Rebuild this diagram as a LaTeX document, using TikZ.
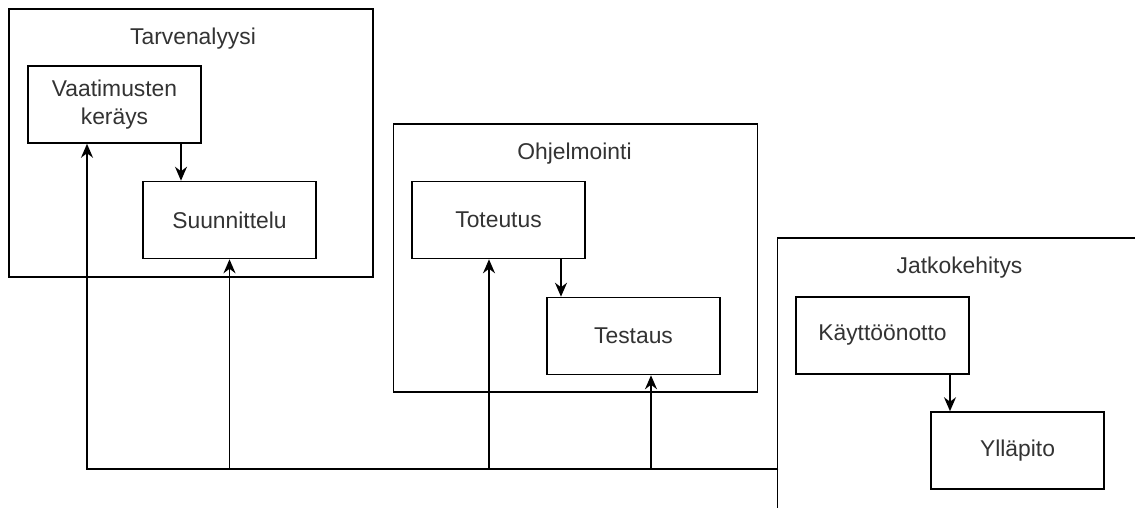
\documentclass[tikz,border=0pt]{standalone}
\usepackage{fontspec}
\setmainfont{Liberation Sans}
\usetikzlibrary{arrows.meta,positioning}
\definecolor{phaseInk}{HTML}{000000}
\definecolor{phaseText}{HTML}{333333}
\tikzset{
  every picture/.style={font=\fontsize{13pt}{15.5pt}\selectfont, text=phaseText},
  phase frame/.style={draw=phaseInk, line width=0.9pt, fill=white,
    minimum width=7.28cm, minimum height=5.36cm, inner sep=0pt},
  phase title/.style={inner sep=1pt},
  phase box/.style={draw=phaseInk, line width=0.9pt, fill=white, align=center,
    minimum width=3.46cm, minimum height=1.54cm, inner sep=2pt},
  phase arrow/.style={-{Stealth[length=2.8mm,width=2.4mm]},
    draw=phaseInk, line width=0.9pt, line cap=butt}
}

\begin{document}
\begin{tikzpicture}[x=0.02cm,y=-0.02cm]
  \useasboundingbox (0,0) rectangle (1135,507);
  \clip (0,0) rectangle (1135,507);
  % phase frames
  \node[phase frame] (tarve) at (191,143) {};
  \node[phase frame] (ohjel) at (575.5,258) {};
  \node[phase frame, minimum height=5.6cm] (jatko) at (959.5,378) {};
  \node[phase title] (tarvet) at (193,39) {Tarvenalyysi};
  \node[phase title] (ohjelt) at (574.5,154) {Ohjelmointi};
  \node[phase title] (jatkot) at (959.5,268) {Jatkokehitys};
  % steps
  \node[phase box] (vaat) at (114.5,104.5) {Vaatimusten\\keräys};
  \node[phase box] (suun) at (229.5,220) {Suunnittelu};
  \node[phase box] (tot) at (498.5,220) {Toteutus};
  \node[phase box] (test) at (633.5,336) {Testaus};
  \node[phase box] (kaytto) at (882.5,335.5) {Käyttöönotto};
  \node[phase box] (yllap) at (1017.5,450.5) {Ylläpito};
  % inside each phase
  \coordinate (va) at ([xshift=1.33cm]vaat.south);
  \coordinate (to) at ([xshift=1.25cm]tot.south);
  \coordinate (ka) at ([xshift=1.35cm]kaytto.south);
  \draw[phase arrow] (va) -- (va |- suun.north);
  \draw[phase arrow] (to) -- (to |- test.north);
  \draw[phase arrow] (ka) -- (ka |- yllap.north);
  % feedback from Jatkokehitys
  \coordinate (bus) at (778,469);
  \draw[phase arrow] (bus) -| ([xshift=-0.55cm]vaat.south);
  \draw[phase arrow] (bus) -| (suun.south);
  \draw[phase arrow] (bus) -| ([xshift=-0.19cm]tot.south);
  \draw[phase arrow] (bus) -| ([xshift=0.35cm]test.south);
\end{tikzpicture}
\end{document}
